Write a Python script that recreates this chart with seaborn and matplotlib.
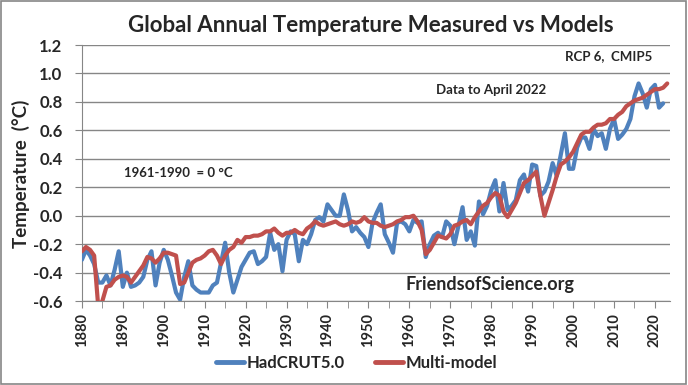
import numpy as np
import pandas as pd
import seaborn as sns
import matplotlib.pyplot as plt
from matplotlib.patches import Rectangle
from matplotlib.ticker import MultipleLocator

# Données
years_had = list(range(1880, 2023))
hadcrut = [
    -0.31, -0.24, -0.28, -0.34, -0.47, -0.47, -0.42, -0.49, -0.38, -0.25,   # 1880s
    -0.50, -0.40, -0.50, -0.49, -0.47, -0.43, -0.31, -0.25, -0.49, -0.33,   # 1890s
    -0.24, -0.31, -0.42, -0.54, -0.59, -0.43, -0.32, -0.49, -0.52, -0.54,   # 1900s
    -0.54, -0.54, -0.49, -0.47, -0.33, -0.19, -0.40, -0.54, -0.45, -0.36,   # 1910s
    -0.31, -0.26, -0.25, -0.34, -0.32, -0.29, -0.12, -0.24, -0.20, -0.39,   # 1920s
    -0.17, -0.11, -0.13, -0.32, -0.17, -0.20, -0.13, -0.03, -0.01, -0.04,   # 1930s
    0.08, 0.04, 0.00, 0.00, 0.15, 0.04, -0.11, -0.08, -0.12, -0.15,         # 1940s
    -0.22, -0.05, 0.02, 0.08, -0.13, -0.19, -0.26, -0.05, -0.04, -0.06,     # 1950s
    -0.11, -0.03, -0.05, -0.04, -0.29, -0.20, -0.14, -0.12, -0.15, -0.04,   # 1960s
    -0.07, -0.20, -0.07, 0.06, -0.17, -0.11, -0.21, 0.10, 0.01, 0.07,       # 1970s
    0.18, 0.25, 0.03, 0.23, 0.04, 0.07, 0.11, 0.25, 0.29, 0.17,             # 1980s
    0.36, 0.35, 0.14, 0.17, 0.24, 0.37, 0.28, 0.43, 0.58, 0.33,             # 1990s
    0.33, 0.48, 0.55, 0.55, 0.47, 0.61, 0.56, 0.58, 0.47, 0.61,             # 2000s
    0.68, 0.54, 0.57, 0.61, 0.68, 0.84, 0.93, 0.86, 0.76, 0.89,             # 2010s
    0.92, 0.76, 0.79,                                                       # 2020s
]

years_mod = list(range(1880, 2024))
multimodel = [
    -0.25, -0.22, -0.24, -0.28, -0.64, -0.60, -0.50, -0.49, -0.45, -0.43,
    -0.42, -0.43, -0.47, -0.43, -0.39, -0.35, -0.29, -0.30, -0.33, -0.30,
    -0.26, -0.26, -0.27, -0.28, -0.48, -0.47, -0.40, -0.33, -0.31, -0.30,
    -0.28, -0.25, -0.24, -0.28, -0.34, -0.28, -0.24, -0.22, -0.17, -0.19,
    -0.15, -0.15, -0.14, -0.14, -0.13, -0.11, -0.11, -0.09, -0.12, -0.14,
    -0.12, -0.12, -0.10, -0.12, -0.13, -0.09, -0.07, -0.04, -0.06, -0.07,
    -0.06, -0.05, -0.04, -0.06, -0.07, -0.06, -0.04, -0.05, -0.04, -0.01,
    -0.04, -0.05, -0.05, -0.07, -0.08, -0.07, -0.06, -0.04, -0.03, -0.01,
    -0.01, 0.00, -0.04, -0.10, -0.27, -0.24, -0.19, -0.14, -0.15, -0.16,
    -0.13, -0.07, -0.06, -0.04, -0.03, -0.06, -0.01, 0.03, 0.07, 0.09,
    0.13, 0.16, 0.14, 0.03, -0.01, 0.04, 0.09, 0.16, 0.23, 0.25,
    0.28, 0.31, 0.14, 0.00, 0.09, 0.18, 0.28, 0.36, 0.38, 0.41,
    0.45, 0.51, 0.57, 0.59, 0.59, 0.62, 0.64, 0.64, 0.65, 0.68,
    0.68, 0.71, 0.73, 0.77, 0.79, 0.81, 0.82, 0.83, 0.85, 0.87,
    0.89, 0.89, 0.90, 0.93,
]

df = pd.concat([
    pd.DataFrame({'year': years_had, 'temp': hadcrut, 'serie': 'HadCRUT5.0'}),
    pd.DataFrame({'year': years_mod, 'temp': multimodel, 'serie': 'Multi-model'}),
])

sns.set_style("white")
plt.rcParams['font.family'] = ['Lato', 'DejaVu Sans']
plt.rcParams['font.weight'] = 'bold'

fig = plt.figure(figsize=(6.88, 3.85), dpi=100)
ax = fig.add_axes([0.119, 0.218, 0.855, 0.665])

sns.lineplot(data=df, x='year', y='temp', hue='serie',
             palette={'HadCRUT5.0': '#4F81BD', 'Multi-model': '#C0504D'},
             linewidth=3, ax=ax, zorder=3)

ax.set_xlim(1880, 2023.7)
ax.set_ylim(-0.6, 1.2)
ax.xaxis.set_major_locator(MultipleLocator(10))
ax.xaxis.set_minor_locator(MultipleLocator(5))
ax.grid(axis='y', color='#868686', linewidth=1)
ax.set_axisbelow(True)
for s in ['top', 'right']:
    ax.spines[s].set_visible(False)
for s in ['left', 'bottom']:
    ax.spines[s].set_color('#868686')
ax.tick_params(axis='x', which='both', direction='out', length=5, color='#868686',
               bottom=True, labelsize=10.5, rotation=90)
ax.tick_params(axis='y', direction='out', length=5, color='#868686', left=True,
               labelsize=12, pad=9)
yt = np.arange(-0.6, 1.21, 0.2)
ax.set_yticks(yt)
ax.set_yticklabels([f"{v:.1f}" if abs(v) > 1e-9 else "0.0" for v in yt])
ax.set_xlabel('')
ax.set_ylabel('')
fig.text(0.03, 0.548, 'Temperature  (°C)', rotation=90, fontsize=13.5,
         fontweight='bold', ha='center', va='center')

fig.text(0.5385, 0.916, 'Global Annual Temperature Measured vs Models',
         fontsize=16, fontweight='bold', ha='center', va='baseline')

ax.text(1890.3, 0.30, '1961-1990  = 0 °C', fontsize=9.5, fontweight='bold', va='center')
ax.text(1998, 1.12, 'RCP 6,  CMIP5', fontsize=9.5, fontweight='bold', va='center')
ax.text(1966.4, 0.885, 'Data to April 2022', fontsize=9.5, fontweight='bold', va='center')
ax.text(1959, -0.484, 'FriendsofScience.org', fontsize=13, fontweight='bold', va='center')

ax.get_legend().remove()
handles, labels = ax.get_legend_handles_labels()
leg = fig.legend(handles, labels, loc='center', bbox_to_anchor=(0.518, 0.057), ncol=2,
                 frameon=False, fontsize=12, handlelength=1.7, columnspacing=1.8,
                 handletextpad=0.15)
for line in leg.get_lines():
    line.set_linewidth(3.5)

fig.patches.append(Rectangle((0.002, 0.003), 0.995, 0.994, transform=fig.transFigure,
                             fill=False, edgecolor='#868686', linewidth=1.2))

plt.savefig('out.png', dpi=100)
